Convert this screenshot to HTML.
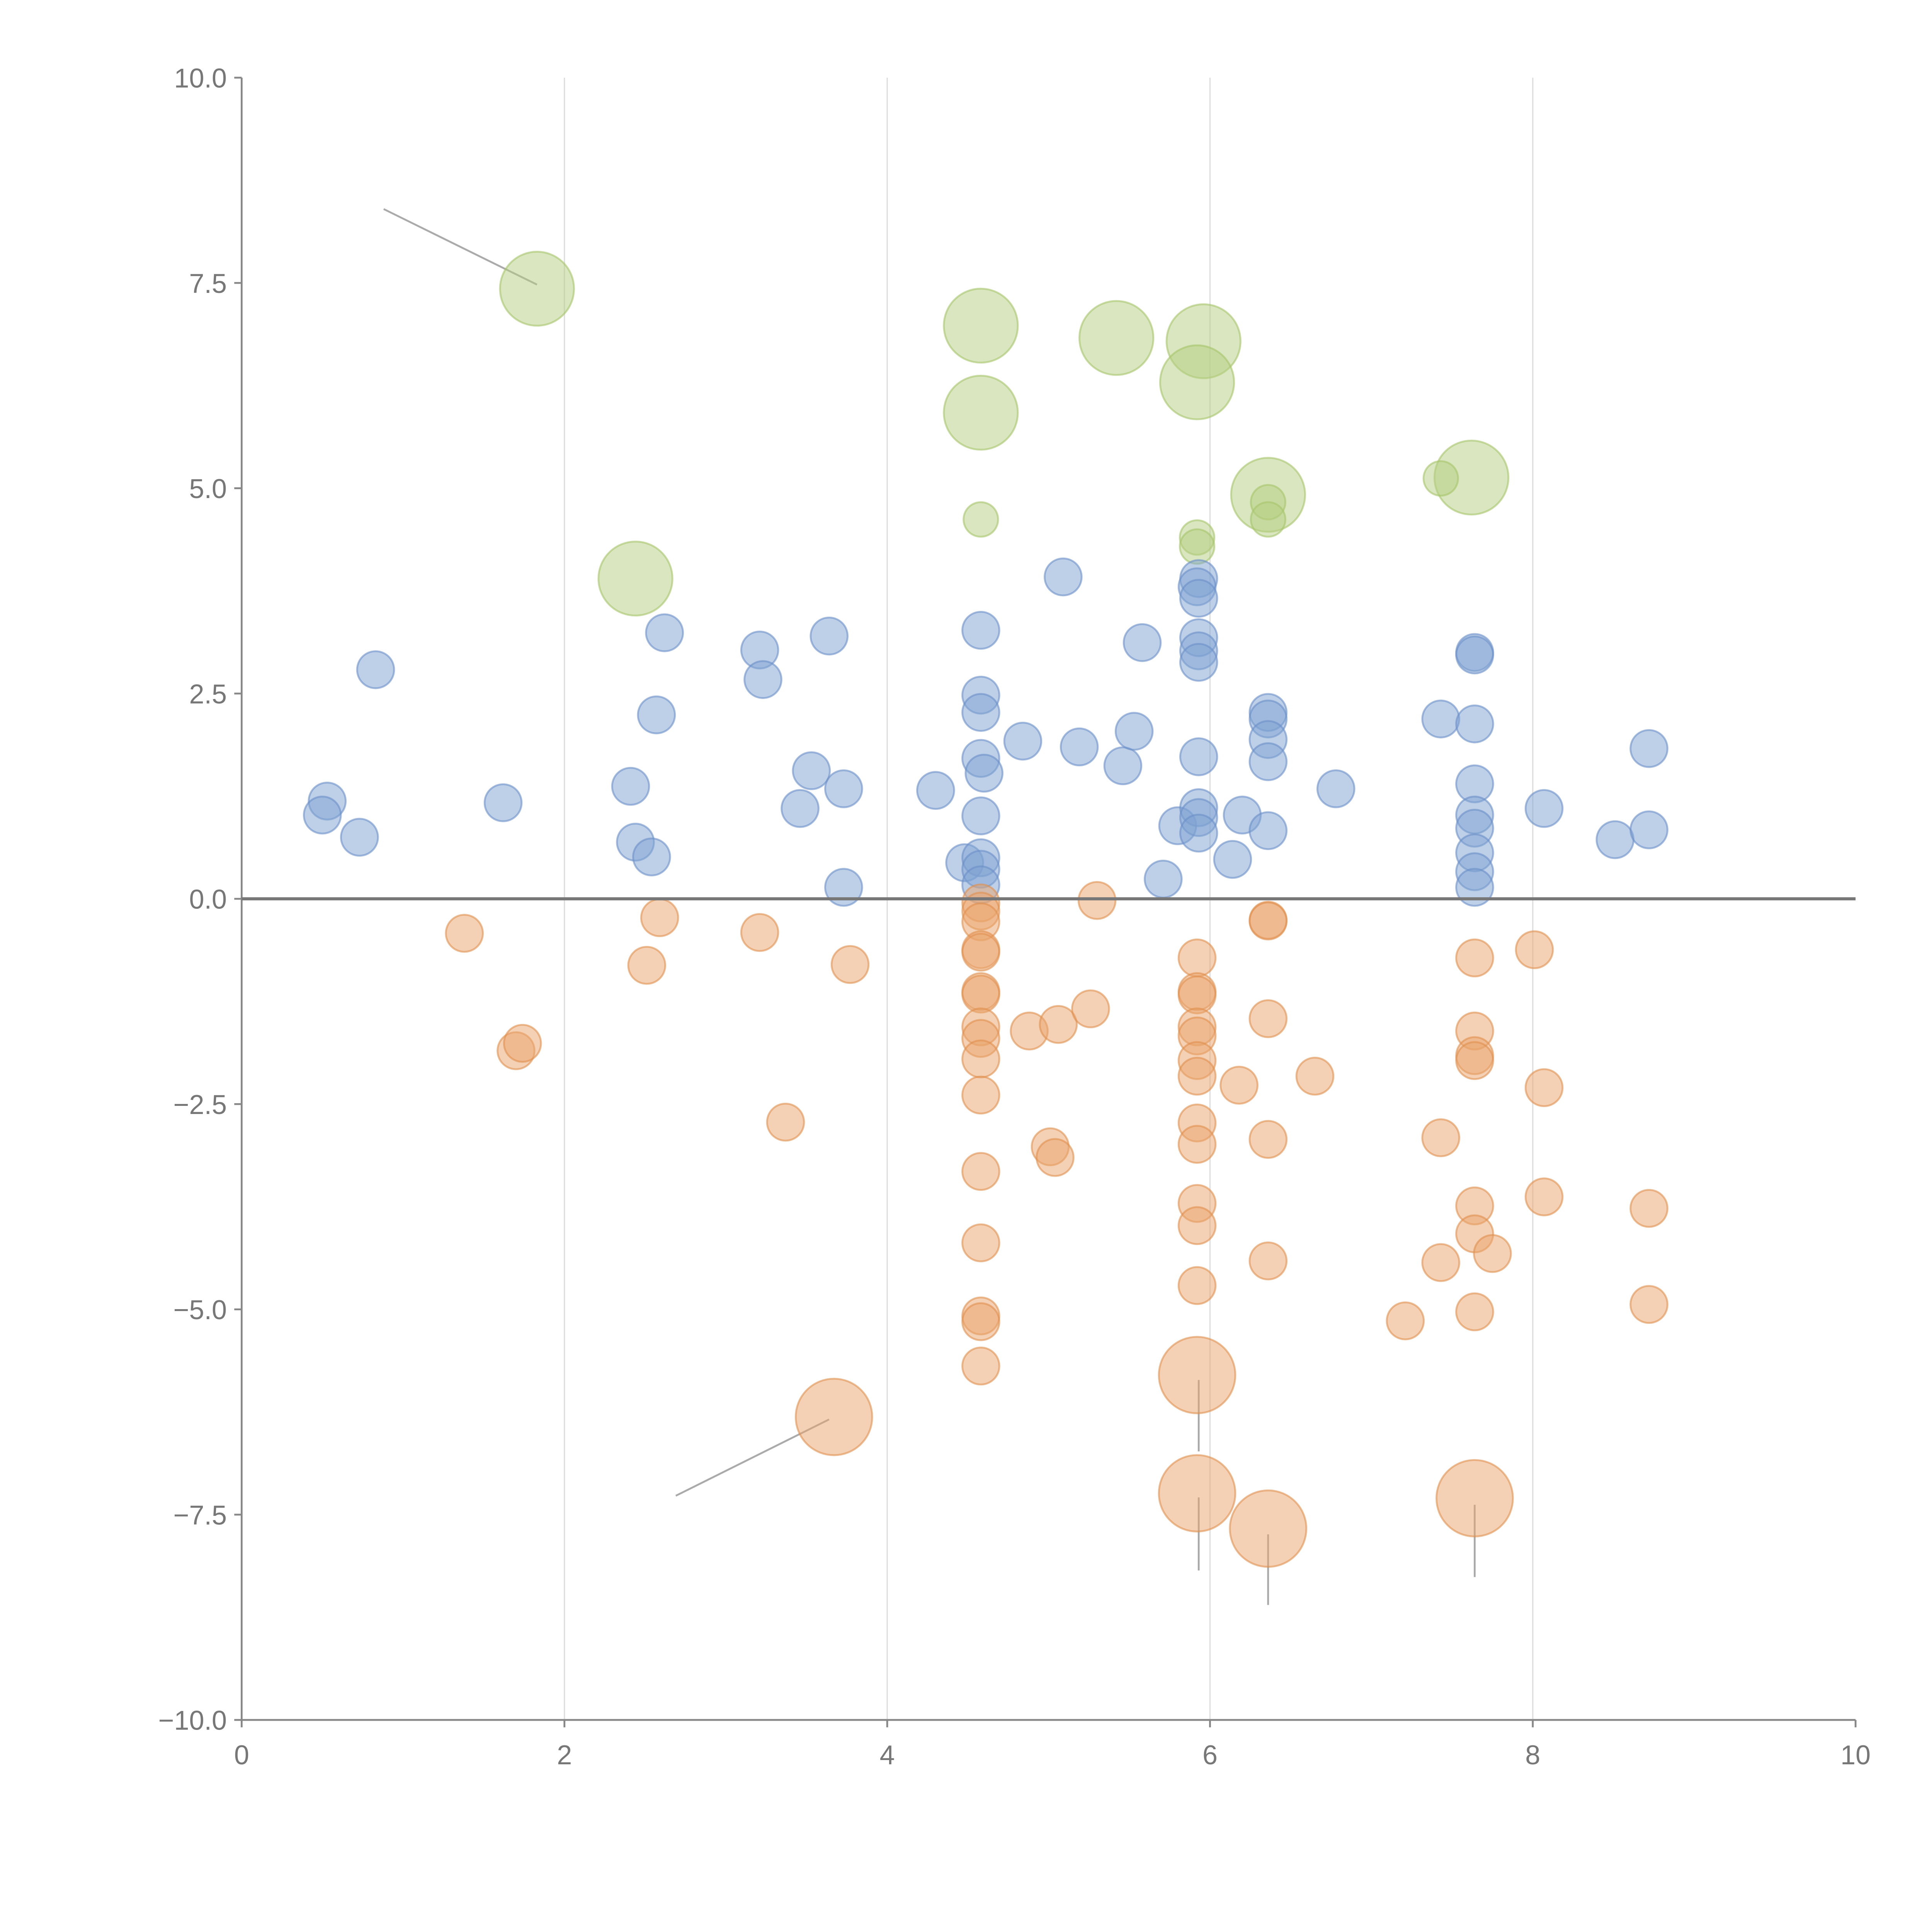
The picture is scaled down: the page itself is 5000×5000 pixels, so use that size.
<!DOCTYPE html>
<html><head><meta charset="utf-8"><style>
html,body{margin:0;padding:0;background:#fff;}
svg{display:block;}
text{font-family:"Liberation Sans",Arial,sans-serif;fill:#777;}
</style></head><body>
<svg id="chart" xmlns="http://www.w3.org/2000/svg" width="5000" height="5000" viewBox="0 0 1567 1567">
<rect width="1567" height="1567" fill="#fff"/>
<g id="grid"></g><g id="annot"></g><g id="marks"></g><g id="axes"></g>
</svg>
<script>
const xTicks=[0,2,4,6,8,10];
const yTicks=[-10,-7.5,-5,-2.5,0,2.5,5,7.5,10];
const yTickLabels=["\u221210.0","\u22127.5","\u22125.0","\u22122.5","0.0","2.5","5.0","7.5","10.0"];
const blueX=[0.53,0.50,0.73,0.83,1.62,2.41,2.44,2.54,2.57,2.62,3.21,3.23,3.46,3.53,3.64,3.73,3.73,4.30,4.48,4.58,4.58,4.58,4.58,4.60,4.58,4.58,4.58,4.58,4.84,5.09,5.19,5.46,5.53,5.58,5.71,5.80,5.93,5.92,5.93,5.93,5.93,5.93,5.93,5.93,5.93,5.93,6.14,6.20,6.36,6.36,6.36,6.36,6.36,6.78,7.43,7.64,7.64,7.64,7.64,7.64,7.64,7.64,7.64,7.64,8.07,8.51,8.72,8.72];
const blueY=[1.19,1.02,0.75,2.79,1.17,1.37,0.69,0.51,2.24,3.24,3.03,2.67,1.10,1.56,3.20,1.34,0.14,1.32,0.44,3.27,2.48,2.27,1.71,1.53,1.01,0.50,0.36,0.17,1.92,3.92,1.85,1.62,2.04,3.12,0.24,0.89,3.90,3.80,3.66,3.18,3.02,2.88,1.73,1.11,0.99,0.80,0.48,1.02,2.27,2.19,1.94,1.67,0.83,1.34,2.19,3.00,2.97,2.13,1.40,1.02,0.86,0.56,0.33,0.14,1.10,0.72,1.83,0.84];
const orangeX=[1.38,1.70,1.74,2.51,2.59,3.21,3.37,3.77,4.58,4.58,4.58,4.58,4.58,4.58,4.58,4.58,4.58,4.58,4.58,4.58,4.58,4.58,4.58,4.58,4.88,5.06,5.26,5.30,5.01,5.04,5.92,5.92,5.92,5.92,5.92,5.92,5.92,5.92,5.92,5.92,5.92,5.92,6.18,6.36,6.36,6.36,6.36,6.36,6.65,7.21,7.43,7.43,7.64,7.64,7.64,7.64,7.64,7.64,7.75,7.64,8.01,8.07,8.07,8.72,8.72];
const orangeY=[-0.42,-1.85,-1.76,-0.81,-0.23,-0.41,-2.72,-0.80,-0.05,-0.15,-0.28,-0.62,-0.65,-1.13,-1.16,-1.56,-1.70,-1.95,-2.39,-3.32,-4.19,-5.08,-5.15,-5.69,-1.61,-1.53,-1.34,-0.02,-3.02,-3.15,-0.72,-1.13,-1.17,-1.56,-1.67,-1.97,-2.16,-2.73,-2.99,-3.71,-3.98,-4.71,-2.27,-0.26,-0.27,-1.46,-2.93,-4.41,-2.16,-5.14,-2.91,-4.43,-0.72,-1.61,-1.91,-1.97,-3.74,-4.08,-4.32,-5.03,-0.62,-2.30,-3.63,-3.77,-4.94];
const orangeBigX=[3.67,5.92,5.92,6.36,7.64];
const orangeBigY=[-6.31,-5.80,-7.24,-7.67,-7.30];
const greenX=[4.58,5.92,5.92,6.36,6.36,7.43];
const greenY=[4.62,4.40,4.29,4.83,4.62,5.12];
const greenBigX=[1.83,2.44,4.58,4.58,5.42,5.96,5.92,6.36,7.62];
const greenBigY=[7.43,3.90,6.98,5.92,6.83,6.79,6.29,4.92,5.13];
const annotFromX=[0.88,2.69,5.93,5.93,6.36,7.64];
const annotFromY=[8.40,-7.27,-6.73,-8.18,-8.60,-8.26];
const annotToX=[1.83,3.64,5.93,5.93,6.36,7.64];
const annotToY=[7.48,-6.34,-5.86,-7.29,-7.74,-7.38];

const X0=196,X1=1505,Y0=1395,Y1=63;
const sx=v=>X0+(v-0)/(10-0)*(X1-X0);
const sy=v=>Y0-(v+10)/20*(Y0-Y1);
const NS="http://www.w3.org/2000/svg";
function mk(tag,attrs,parent){const e=document.createElementNS(NS,tag);for(const k in attrs)e.setAttribute(k,attrs[k]);parent.appendChild(e);return e;}
const grid=document.getElementById('grid'),marks=document.getElementById('marks'),axes=document.getElementById('axes'),annot=document.getElementById('annot');

xTicks.forEach(t=>{ if(t>0&&t<10){const l=mk('line',{x1:sx(t),x2:sx(t),y1:Y1,y2:Y0,stroke:'#ddd','stroke-width':1},grid);

}});

annotFromX.forEach((v,i)=>{const l=mk('line',{x1:sx(v),y1:sy(annotFromY[i]),x2:sx(annotToX[i]),y2:sy(annotToY[i]),stroke:'#aaa','stroke-width':1.5},annot);

});

function series(xs,ys,r,fill,stroke,name){xs.forEach((v,i)=>{const c=mk('circle',{cx:sx(v),cy:sy(ys[i]),r:r,fill:fill,'fill-opacity':0.5,stroke:stroke,'stroke-opacity':0.6,'stroke-width':1.5},marks);

});}
series(greenBigX,greenBigY,30,'#b3cd80','#a6c46a','green-bubble-large');
series(greenX,greenY,14,'#b3cd80','#a6c46a','green-bubble');
series(blueX,blueY,15,'#7ea1d2','#6b90c8','blue-bubble');
series(orangeX,orangeY,15,'#e9a46c','#e08f4e','orange-bubble');
series(orangeBigX,orangeBigY,31,'#e9a46c','#e08f4e','orange-bubble-large');

let l=mk('line',{x1:X0,x2:X0,y1:Y1,y2:Y0,stroke:'#888','stroke-width':1.5},axes);


l=mk('line',{x1:X0,x2:X1,y1:Y0,y2:Y0,stroke:'#888','stroke-width':1.5},axes);


l=mk('line',{x1:X0,x2:X1,y1:sy(0),y2:sy(0),stroke:'#777','stroke-width':2.5},axes);



xTicks.forEach(t=>{const tk=mk('line',{x1:sx(t),x2:sx(t),y1:Y0,y2:Y0+6,stroke:'#888','stroke-width':1.5},axes);


const tx=mk('text',{x:sx(t),y:Y0+36,'text-anchor':'middle','font-size':22},axes);tx.textContent=t;

});
yTicks.forEach((t,i)=>{const tk=mk('line',{x1:X0-6,x2:X0,y1:sy(t),y2:sy(t),stroke:'#888','stroke-width':1.5},axes);


const tx=mk('text',{x:X0-12,y:sy(t)+8,'text-anchor':'end','font-size':22},axes);tx.textContent=yTickLabels[i];

});
</script>
</body></html>
